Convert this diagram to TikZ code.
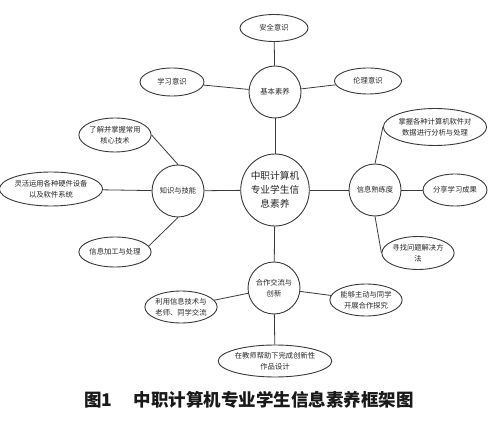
\documentclass[tikz,border=0pt]{standalone}
\usepackage{fontspec}
\newfontfamily\cjk{Noto Sans CJK SC}
\usetikzlibrary{shapes.geometric}
\definecolor{ln}{HTML}{3A3A3A}
\tikzset{
  leaf/.style={ellipse,draw=ln,line width=0.9pt,inner sep=0pt,align=center,
    font=\cjk\fontsize{7.3}{11.5}\selectfont,text=black!85},
  hub/.style={circle,draw=ln,line width=0.9pt,inner sep=0pt,minimum size=52pt,align=center,
    font=\cjk\fontsize{7.3}{11.5}\selectfont,text=black!85},
  link/.style={draw=ln,line width=0.8pt}
}
\begin{document}
\begin{tikzpicture}[x=1pt,y=-1pt]
\useasboundingbox[fill=white] (0,0) rectangle (500,427);
% core
\node[ellipse,draw=ln,line width=0.9pt,inner sep=0pt,minimum width=60pt,minimum height=72pt,align=center,
  font=\cjk\fontsize{9.7}{14}\selectfont,text=black!85] (core) at (275,190) {中职计算机\\专业学生信\\息素养};
% hubs
\node[hub] (jb) at (275,92) {基本素养};
\node[hub] (zs) at (178,191) {知识与技能};
\node[hub] (xs) at (375,190) {信息熟练度};
\node[hub] (hz) at (274,288) {合作交流与\\创新};
% leaves
\node[leaf,minimum width=68pt,minimum height=27pt] (aq) at (274,28) {安全意识};
\node[leaf,minimum width=64pt,minimum height=28pt] (xx) at (172,82) {学习意识};
\node[leaf,minimum width=67pt,minimum height=26pt] (ll) at (368,81) {伦理意识};
\node[leaf,minimum width=64pt,minimum height=34pt] (k1) at (115,135) {了解并掌握常用\\核心技术};
\node[leaf,minimum width=86pt,minimum height=34pt] (k2) at (51,189) {灵活运用各种硬件设备\\以及软件系统};
\node[leaf,minimum width=64pt,minimum height=30pt] (k3) at (115,252) {信息加工与处理};
\node[leaf,minimum width=89pt,minimum height=37pt] (s1) at (435,127) {掌握各种计算机软件对\\数据进行分析与处理};
\node[leaf,minimum width=64pt,minimum height=32pt] (s2) at (455,190) {分享学习成果};
\node[leaf,minimum width=64pt,minimum height=33pt] (s3) at (418,253) {寻找问题解决方\\法};
\node[leaf,minimum width=62pt,minimum height=32pt] (h1) at (181,307) {利用信息技术与\\老师、同学交流};
\node[leaf,minimum width=64pt,minimum height=32pt] (h2) at (366,300) {能够主动与同学\\开展合作探究};
\node[leaf,minimum width=94pt,minimum height=32pt] (h3) at (275,361) {在教师帮助下完成创新性\\作品设计};
% links core-hubs
\draw[link] (core) -- (jb);
\draw[link] (core) -- (zs);
\draw[link] (core) -- (xs);
\draw[link] (core) -- (hz);
% links hubs-leaves
\draw[link] (jb) -- (aq);
\draw[link] (jb) -- (xx);
\draw[link] (jb) -- (ll);
\draw[link] (zs.north) -- (k1.east);
\draw[link] (zs) -- (k2);
\draw[link] (zs.south) -- (k3.10);
\draw[link] (xs.north) -- (s1.west);
\draw[link] (xs) -- (s2);
\draw[link] (xs.south) -- (s3.west);
\draw[link] (hz) -- (h1);
\draw[link] (hz) -- (h2);
\draw[link] (hz) -- (h3);
% caption
\node[font=\cjk\bfseries\fontsize{17.5}{20}\selectfont,text=black!90] (cap) at (249,400) {图1\hspace{1.2em}中职计算机专业学生信息素养框架图};
\end{tikzpicture}
\end{document}
